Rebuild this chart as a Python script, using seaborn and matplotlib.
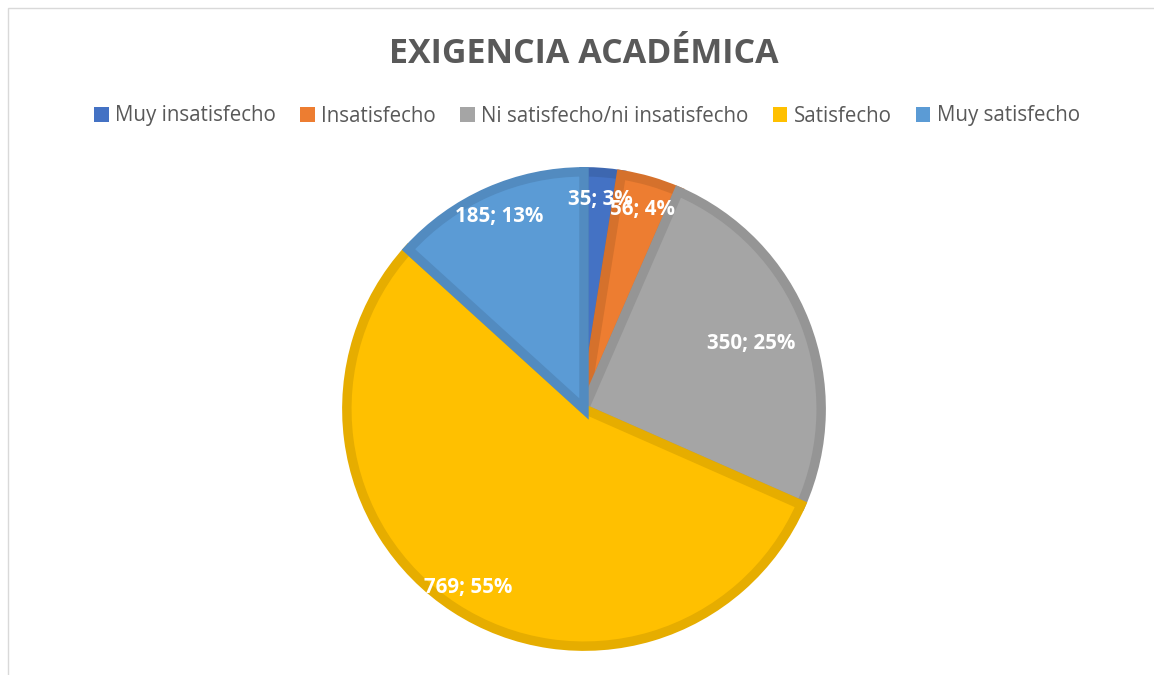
import matplotlib.pyplot as plt
import matplotlib.colors as mcolors
from matplotlib.patches import Rectangle
import seaborn as sns
import numpy as np


categories = ['Muy insatisfecho', 'Insatisfecho', 'Ni satisfecho/ni insatisfecho',
              'Satisfecho', 'Muy satisfecho']
counts = [35, 56, 350, 769, 185]
percent_labels = ['3%', '4%', '25%', '55%', '13%']
title = 'EXIGENCIA ACADÉMICA'

colors = ['#4472C4', '#ED7D31', '#A5A5A5', '#FFC000', '#5B9BD5']
label_radius = [0.87, 0.86, 0.74, 0.88, 0.87]


def darker(color, factor=0.9):
    r, g, b = mcolors.to_rgb(color)
    return (r * factor, g * factor, b * factor)


sns.set_theme(style='white')
plt.rcParams['font.family'] = ['Open Sans', 'DejaVu Sans']

fig = plt.figure(figsize=(11.54, 6.75), dpi=100)
fig.patches.append(Rectangle((8 / 1154, -0.1), 1.2, 1.1 - 8 / 675, transform=fig.transFigure,
                             fill=False, edgecolor='#D9D9D9', linewidth=1))

ax = fig.add_axes([342 / 1154, 24 / 675, 484 / 1154, 484 / 675])
wedges, _ = ax.pie(counts, colors=colors, startangle=90, counterclock=False,
                   radius=0.98, wedgeprops=dict(linewidth=6.8))
for w, c in zip(wedges, colors):
    w.set_edgecolor(darker(c, 0.9))
ax.set_xlim(-1, 1)
ax.set_ylim(-1, 1)
ax.set_aspect('equal')
ax.axis('off')

for i, (w, n, p) in enumerate(zip(wedges, counts, percent_labels)):
    mid = np.deg2rad((w.theta1 + w.theta2) / 2)
    r = label_radius[i]
    ax.text(r * np.cos(mid), r * np.sin(mid), f'{n}; {p}', ha='center', va='center',
            color='white', fontsize=14.8, fontweight='bold')

fig.suptitle(title, x=584 / 1154, y=1 - 54 / 675, va='center',
             fontsize=24.5, fontweight='bold', color='#595959')

leg = fig.legend(wedges, categories, loc='center', bbox_to_anchor=(587 / 1154, 1 - 116 / 675),
                 ncol=5, frameon=False, fontsize=14.8, handlelength=0.7, handleheight=0.7,
                 handletextpad=0.3, columnspacing=1.2)
for t in leg.get_texts():
    t.set_color('#595959')
for h in leg.legend_handles:
    h.set_edgecolor('none')

fig.savefig('out.png', dpi=100)
